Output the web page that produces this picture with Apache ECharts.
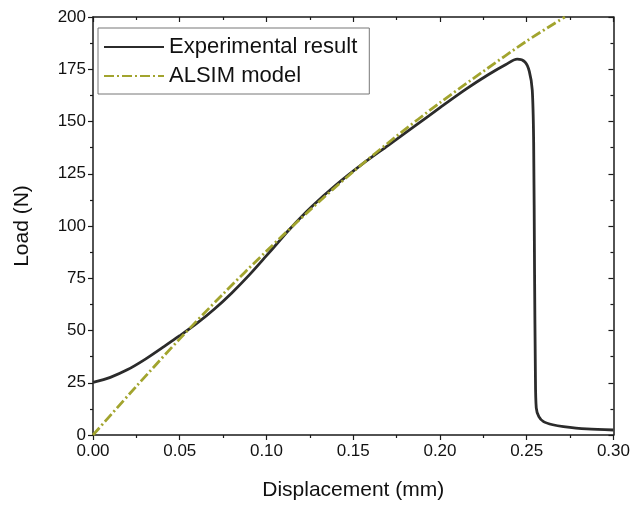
<!DOCTYPE html>
<html>
<head>
<meta charset="utf-8">
<script src="https://cdn.jsdelivr.net/npm/echarts@6/dist/echarts.min.js"></script>
<style>
  html, body { margin: 0; padding: 0; background: #fff; }
  #chart { width: 633px; height: 506px; }
</style>
</head>
<body>
<div id="chart"></div>
<script>
// experimental load-displacement curve
var expX = [0, 0.01, 0.02, 0.03, 0.04, 0.05, 0.06, 0.07, 0.08, 0.09, 0.1, 0.106,
  0.1128, 0.126, 0.14, 0.155, 0.17, 0.185, 0.2006, 0.215, 0.228, 0.238, 0.2445, 0.249, 0.2515,
  0.2532, 0.254, 0.2545, 0.255, 0.2555, 0.257, 0.2597, 0.265, 0.2712, 0.2846, 0.3];
var expY = [25.2, 27.6, 31.3, 36.2, 41.8, 47.5, 53.5, 60.3, 68, 76.5, 85.8, 91.5,
  98, 109.2, 119.6, 129.5, 138.5, 147.5, 157, 165.5, 172.5, 177.3, 179.8, 178.5, 174,
  165, 140, 80, 30, 13, 8.8, 6.4, 4.9, 4, 2.9, 2.4];

// ALSIM model curve
var modelX = [0, 0.025, 0.05, 0.075, 0.1, 0.125, 0.15, 0.175, 0.2, 0.225, 0.25, 0.272];
var modelY = [0, 23.3, 46, 67.5, 88, 107.6, 126, 143, 159, 174, 188.5, 200];

var xTicks = { min: 0, max: 0.3, interval: 0.05 };
var yTicks = { min: 0, max: 200, interval: 25 };

function pairs(xs, ys) {
  return xs.map(function (x, i) { return [x, ys[i]]; });
}

var font = 'Liberation Sans, Arial, sans-serif';
var axisColor = '#1a1a1a';

function frameAxis(extra) {
  var base = {
    axisLine: { show: true, onZero: false, lineStyle: { color: axisColor, width: 1.5 } },
    axisTick: { show: true, length: 5, lineStyle: { color: axisColor, width: 1.2 } },
    minorTick: { show: true, splitNumber: 2, length: 3, lineStyle: { color: axisColor, width: 1.2 } },
    splitLine: { show: false }
  };
  return Object.assign(base, extra);
}

var chart = echarts.init(document.getElementById('chart'));
chart.setOption({
  animation: false,
  backgroundColor: '#fff',
  grid: { left: 93, right: 17, top: 17, bottom: 71 },
  legend: {
    orient: 'vertical',
    left: 98,
    top: 28,
    itemWidth: 60,
    itemHeight: 12,
    itemGap: 7,
    padding: [8, 12, 7, 5],
    borderColor: '#777',
    borderWidth: 1,
    itemStyle: { opacity: 0 },
    textStyle: { fontFamily: font, fontSize: 22, color: '#111' },
    data: ['Experimental result', 'ALSIM model']
  },
  xAxis: [
    frameAxis({
      type: 'value', position: 'bottom',
      min: xTicks.min, max: xTicks.max, interval: xTicks.interval,
      name: 'Displacement (mm)', nameLocation: 'middle', nameGap: 45,
      nameTextStyle: { fontFamily: font, fontSize: 21, color: '#111' },
      axisLabel: {
        margin: 8, fontFamily: font, fontSize: 17, color: '#111',
        formatter: function (v) { return v.toFixed(2); }
      }
    }),
    frameAxis({
      type: 'value', position: 'top',
      min: xTicks.min, max: xTicks.max, interval: xTicks.interval,
      axisTick: { show: true, inside: true, length: 5, lineStyle: { color: axisColor, width: 1.2 } },
      minorTick: { show: true, splitNumber: 2, length: 3, lineStyle: { color: axisColor, width: 1.2 } },
      axisLabel: { show: false }
    })
  ],
  yAxis: [
    frameAxis({
      type: 'value', position: 'left',
      min: yTicks.min, max: yTicks.max, interval: yTicks.interval,
      name: 'Load (N)', nameLocation: 'middle', nameGap: 60,
      nameTextStyle: { fontFamily: font, fontSize: 21, color: '#111' },
      axisLabel: { margin: 7, fontFamily: font, fontSize: 17, color: '#111' }
    }),
    frameAxis({
      type: 'value', position: 'right',
      min: yTicks.min, max: yTicks.max, interval: yTicks.interval,
      axisTick: { show: true, inside: true, length: 5, lineStyle: { color: axisColor, width: 1.2 } },
      minorTick: { show: true, splitNumber: 2, length: 3, lineStyle: { color: axisColor, width: 1.2 } },
      axisLabel: { show: false }
    })
  ],
  series: [
    {
      name: 'Experimental result',
      type: 'line',
      symbol: 'none',
      smooth: 0.3,
      color: '#2b2b2b',
      lineStyle: { color: '#2b2b2b', width: 2.8 },
      data: pairs(expX, expY),
      z: 3
    },
    {
      name: 'ALSIM model',
      type: 'line',
      symbol: 'none',
      smooth: 0.3,
      color: '#a2a42e',
      lineStyle: { color: '#a2a42e', width: 2.8, type: [10, 3, 2, 3] },
      data: pairs(modelX, modelY),
      z: 4
    }
  ]
});
</script>
</body>
</html>
